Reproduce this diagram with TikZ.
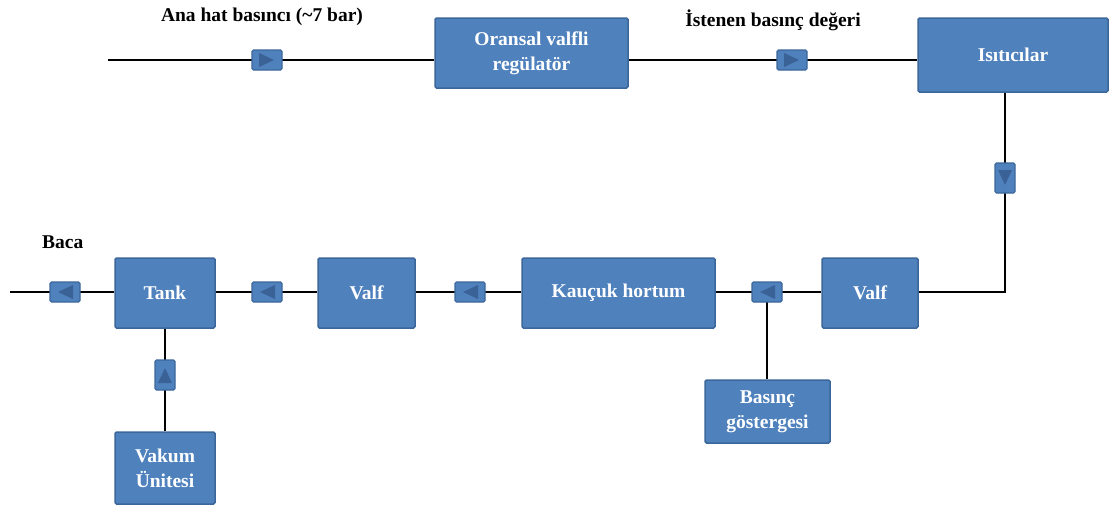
\documentclass[tikz,border=0pt]{standalone}
\usepackage{fontspec}
\setmainfont{Liberation Serif}
\definecolor{boxfill}{HTML}{4F81BD}
\definecolor{boxline}{HTML}{3C679A}
\definecolor{trifill}{HTML}{3A6296}
\tikzset{
  x=1pt, y=-1pt,
  box/.style={draw=boxline, fill=boxfill, line width=1.5pt, rounded corners=1.5pt,
    text=white, font=\bfseries\fontsize{19.5}{25}\selectfont, align=center, inner sep=0pt},
  lbl/.style={font=\bfseries\fontsize{19.5}{24}\selectfont, text=black, inner sep=0pt},
  conn/.style={line width=2.2pt, draw=black},
  mbox/.style={draw=boxline, fill=boxfill, line width=1.2pt, rounded corners=1.5pt},
  mtri/.style={fill=trifill},
  flowR/.pic={\path[mbox] (-15,-10) rectangle (15,10); \path[mtri] (-8,-7) -- (7,0) -- (-8,7) -- cycle;},
  flowL/.pic={\path[mbox] (-15,-10) rectangle (15,10); \path[mtri] (8,-7) -- (-7,0) -- (8,7) -- cycle;},
  flowD/.pic={\path[mbox] (-10,-15) rectangle (10,15); \path[mtri] (-7,-8) -- (0,7) -- (7,-8) -- cycle;},
  flowU/.pic={\path[mbox] (-10,-15) rectangle (10,15); \path[mtri] (-7,8) -- (0,-7) -- (7,8) -- cycle;},
}
\begin{document}
\begin{tikzpicture}
\useasboundingbox (0,0) rectangle (1111,506);
% boxes
\node[box, minimum width=193, minimum height=70] (reg) at (531.5,53) {Oransal valfli\\regülatör};
\node[box, minimum width=190, minimum height=74] (isi) at (1013,55) {Isıtıcılar};
\node[box, minimum width=100, minimum height=70] (tank) at (165,293) {Tank};
\node[box, minimum width=97, minimum height=70] (valf1) at (366.5,293) {Valf};
\node[box, minimum width=193, minimum height=70] (kau) at (618.5,293) {Kauçuk hortum};
\node[box, minimum width=96, minimum height=70] (valf2) at (870,293) {Valf};
\node[box, minimum width=125, minimum height=63] (bas) at (767.5,411.5) {Basınç\\göstergesi};
\node[box, minimum width=100, minimum height=72] (vak) at (165,468) {Vakum\\Ünitesi};
% free ends
\coordinate (inlet) at (108,60);
\coordinate (outlet) at (10,292);
\coordinate (corner) at (1005,292);
\coordinate (tee) at (767,292);
% connectors
\draw[conn] (inlet) -- (reg.west |- inlet);
\draw[conn] (reg.east |- 0,60) -- (isi.west |- 0,60);
\draw[conn] (isi.south -| corner) -- (corner) -- (valf2.east |- corner);
\draw[conn] (valf2.west |- 0,292) -- (kau.east |- 0,292);
\draw[conn] (tee) -- (bas.north -| tee);
\draw[conn] (kau.west |- 0,292) -- (valf1.east |- 0,292);
\draw[conn] (valf1.west |- 0,292) -- (tank.east |- 0,292);
\draw[conn] (tank.west |- 0,292) -- (outlet);
\draw[conn] (tank.south) -- (vak.north);
% flow markers
\pic at (267,60) {flowR};
\pic at (792,60) {flowR};
\pic at (1005,178) {flowD};
\pic at (767,292) {flowL};
\pic at (470,292) {flowL};
\pic at (267,292) {flowL};
\pic at (65,292) {flowL};
\pic at (165,375) {flowU};
% labels
\node[lbl] (l1) at (262,17) {Ana hat basıncı (\textasciitilde7 bar)};
\node[lbl] (l2) at (773,20) {İstenen basınç değeri};
\node[lbl, anchor=west] (l3) at (42,242) {Baca};
\end{tikzpicture}
\end{document}
